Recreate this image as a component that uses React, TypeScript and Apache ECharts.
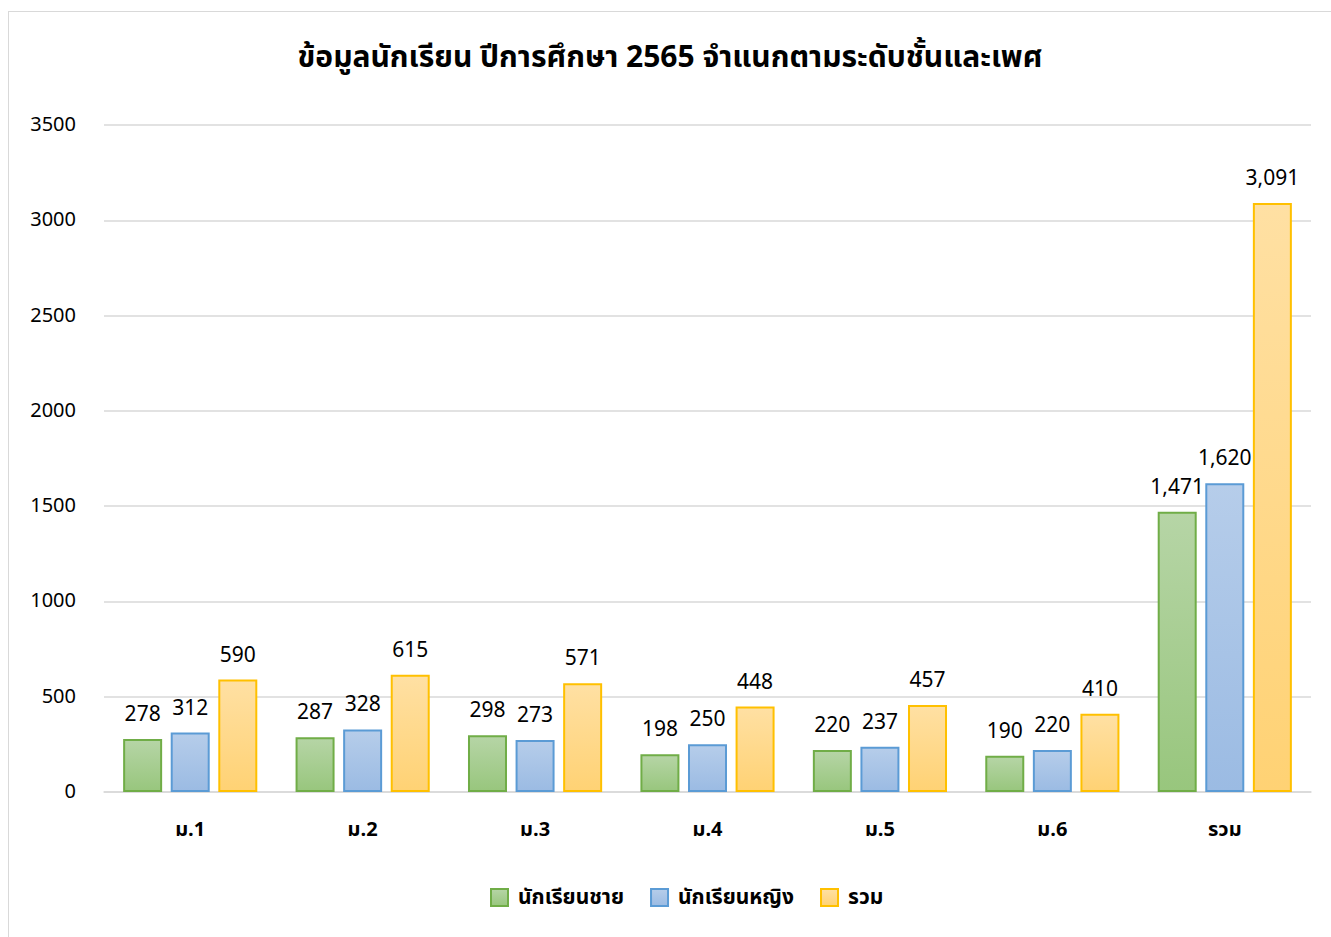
import React, { useEffect, useRef } from "react";
import * as echarts from "echarts";

const categories = ["ม.1", "ม.2", "ม.3", "ม.4", "ม.5", "ม.6", "รวม"];
const boys = [278, 287, 298, 198, 220, 190, 1471];
const girls = [312, 328, 273, 250, 237, 220, 1620];
const totals = [590, 615, 571, 448, 457, 410, 3091];
const seriesNames = ["นักเรียนชาย", "นักเรียนหญิง", "รวม"];
const yTicks = { min: 0, max: 3500, interval: 500 };

const FONT = "'Noto Sans Thai', 'Leelawadee UI', Tahoma, 'Noto Sans', sans-serif";

function grad(top: string, bottom: string) {
  return new echarts.graphic.LinearGradient(0, 0, 0, 1, [
    { offset: 0, color: top },
    { offset: 1, color: bottom },
  ]);
}

export default function App() {
  const ref = useRef<HTMLDivElement>(null);
  useEffect(() => {
    if (!ref.current) return;
    const chart = echarts.init(ref.current, undefined, { renderer: "svg" });
    const fmt = (p: any) => Number(p.value).toLocaleString("en-US");
    const label = {
      show: true,
      position: "top" as const,
      distance: 14,
      color: "#000",
      fontSize: 21,
      fontFamily: FONT,
      formatter: fmt,
    };
    const styles = [
      { fill: grad("#b6d5a6", "#98c67d"), border: "#70ad47" },
      { fill: grad("#b6cdea", "#9bbbe3"), border: "#5b9bd5" },
      { fill: grad("#ffe0a3", "#ffd274"), border: "#ffc000" },
    ];
    const data = [boys, girls, totals];
    chart.setOption({
      animation: false,
      backgroundColor: "#fff",
      title: {
        text: "ข้อมูลนักเรียน ปีการศึกษา 2565 จำแนกตามระดับชั้นและเพศ",
        left: "center",
        top: 26,
        textStyle: { fontSize: 30, fontWeight: "bold", color: "#000", fontFamily: FONT },
      },
      legend: {
        bottom: 24,
        left: 476,
        icon: "rect",
        itemWidth: 17,
        itemHeight: 17,
        itemGap: 26,
        textStyle: {
          fontSize: 21,
          fontWeight: "bold",
          color: "#000",
          fontFamily: FONT,
          padding: [0, 0, 0, 5],
        },
        data: seriesNames.map((n, i) => ({
          name: n,
          itemStyle: { borderColor: styles[i].border, borderWidth: 2 },
        })),
      },
      grid: { left: 95, right: 20, top: 113, bottom: 145, containLabel: false },
      xAxis: {
        type: "category",
        data: categories,
        axisLine: { show: true, lineStyle: { color: "#d9d9d9", width: 1.5 } },
        axisTick: { show: false },
        axisLabel: { margin: 28, fontSize: 20, fontWeight: "bold", color: "#000", fontFamily: FONT },
      },
      yAxis: {
        type: "value",
        min: yTicks.min,
        max: yTicks.max,
        interval: yTicks.interval,
        axisLine: { show: false },
        axisTick: { show: false },
        splitLine: { lineStyle: { color: "#d9d9d9", width: 1.5 } },
        axisLabel: {
          margin: 28,
          fontSize: 20,
          color: "#000",
          fontFamily: FONT,
          formatter: (v: number) => String(v),
        },
      },
      series: data.map((d, i) => ({
        name: seriesNames[i],
        type: "bar",
        data: d,
        barWidth: 39,
        barGap: "22%",
        itemStyle: { color: styles[i].fill, borderColor: styles[i].border, borderWidth: 2 },
        label,
      })),
    });
    return () => chart.dispose();
  }, []);
  return (
    <div
      ref={ref}
      style={{
        position: "absolute",
        left: 8,
        top: 11,
        width: 1323,
        height: 926,
        borderTop: "1px solid #d9d9d9",
        borderLeft: "1px solid #d9d9d9",
        boxSizing: "border-box",
        overflow: "hidden",
      }}
    />
  );
}
